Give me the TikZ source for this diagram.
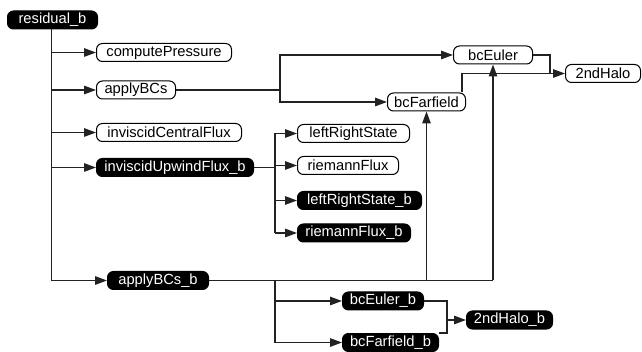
\documentclass[tikz,border=0pt]{standalone}
\usepackage{fontspec}
\setmainfont{Liberation Sans}
\usetikzlibrary{arrows.meta,calc}
\definecolor{linec}{HTML}{222222}
\tikzset{
  fn/.style={draw=black, line width=1pt, rounded corners=6pt, minimum height=18pt,
    inner xsep=3pt, inner ysep=0pt, anchor=west, fill=white,
    font=\fontsize{14.7}{16}\selectfont, text=black},
  fnb/.style={fn, fill=black, text=white},
  wire/.style={draw=linec, line width=1.3pt},
  arr/.style={wire, -{Triangle[length=12pt,width=8.5pt]}},
}
\begin{document}
\begin{tikzpicture}[x=1pt,y=-1pt]
\useasboundingbox (0,0) rectangle (642,352);
% nodes
\node[fnb, minimum width=90pt]  (resb) at (7,20)    {residual\_b};
\node[fn,  minimum width=135pt] (cp)   at (96,52.5) {computePressure};
\node[fn,  minimum width=79pt]  (ab)   at (96,90)   {applyBCs};
\node[fn,  minimum width=145pt] (icf)  at (96,132.5){inviscidCentralFlux};
\node[fnb, minimum width=157pt] (iuf)  at (96,167.5){inviscidUpwindFlux\_b};
\node[fnb, minimum width=101pt] (abb)  at (107,280.5){applyBCs\_b};
\node[fn,  minimum width=112pt] (lrs)  at (297,133.5){leftRightState};
\node[fn,  minimum width=101pt] (rf)   at (297,165.5){riemannFlux};
\node[fnb, minimum width=124pt] (lrsb) at (297,200.5){leftRightState\_b};
\node[fnb, minimum width=113pt] (rfb)  at (297,233) {riemannFlux\_b};
\node[fn,  minimum width=79pt]  (bce)  at (453,55)  {bcEuler};
\node[fn,  minimum width=78pt]  (bcf)  at (387,102) {bcFarfield};
\node[fn,  minimum width=75pt]  (halo) at (565,73.5){2ndHalo};
\node[fnb, minimum width=81pt]  (bceb) at (342,301) {bcEuler\_b};
\node[fnb, minimum width=96pt]  (bcfb) at (342,342.5) {bcFarfield\_b};
\node[fnb, minimum width=86pt]  (halob) at (466,320){2ndHalo\_b};
% junctions
\coordinate (j1) at (275,167.5);
\coordinate (j2) at (280,90);
\coordinate (j3) at (550,73.5);
\coordinate (j5) at (275,280.5);
\coordinate (j6) at (447,320);
% main trunk
\draw[arr] ([xshift=-1pt]resb.south) |- (abb.west);
\foreach \n in {cp,ab,icf,iuf}{
  \draw[arr] ([xshift=-1pt]resb.south |- \n.west) -- (\n.west);
}
% inviscidUpwindFlux_b branch
\draw[wire] (iuf.east) -- (j1);
\draw[wire] (j1 |- lrs.west) -- (j1 |- rfb.west);
\foreach \n in {lrs,rf,lrsb,rfb}{
  \draw[arr] (j1 |- \n.west) -- (\n.west);
}
% applyBCs branch
\draw[wire] (ab.east) -- (j2);
\draw[arr] (j2) |- (bce.west);
\draw[arr] (j2) |- (bcf.west);
% to 2ndHalo
\draw[wire] (bce.east) -| (j3);
\draw[wire] ([xshift=-4pt]bcf.north east) |- (j3);
\draw[arr] (j3) -- (halo.west);
% applyBCs_b branch
\draw[wire] (abb.east) -- (bce.south |- abb.east);
\draw[arr] (bce.south |- abb.east) -- (bce.south);
\draw[arr] (bcf.south |- abb.east) -- (bcf.south);
\draw[arr] (j5) |- (bceb.west);
\draw[arr] (j5) |- (bcfb.west);
% to 2ndHalo_b
\draw[wire] (bceb.east) -| (j6);
\draw[wire] (bcfb.north east) -| (j6);
\draw[arr] (j6) -- (halob.west);
\end{tikzpicture}
\end{document}
